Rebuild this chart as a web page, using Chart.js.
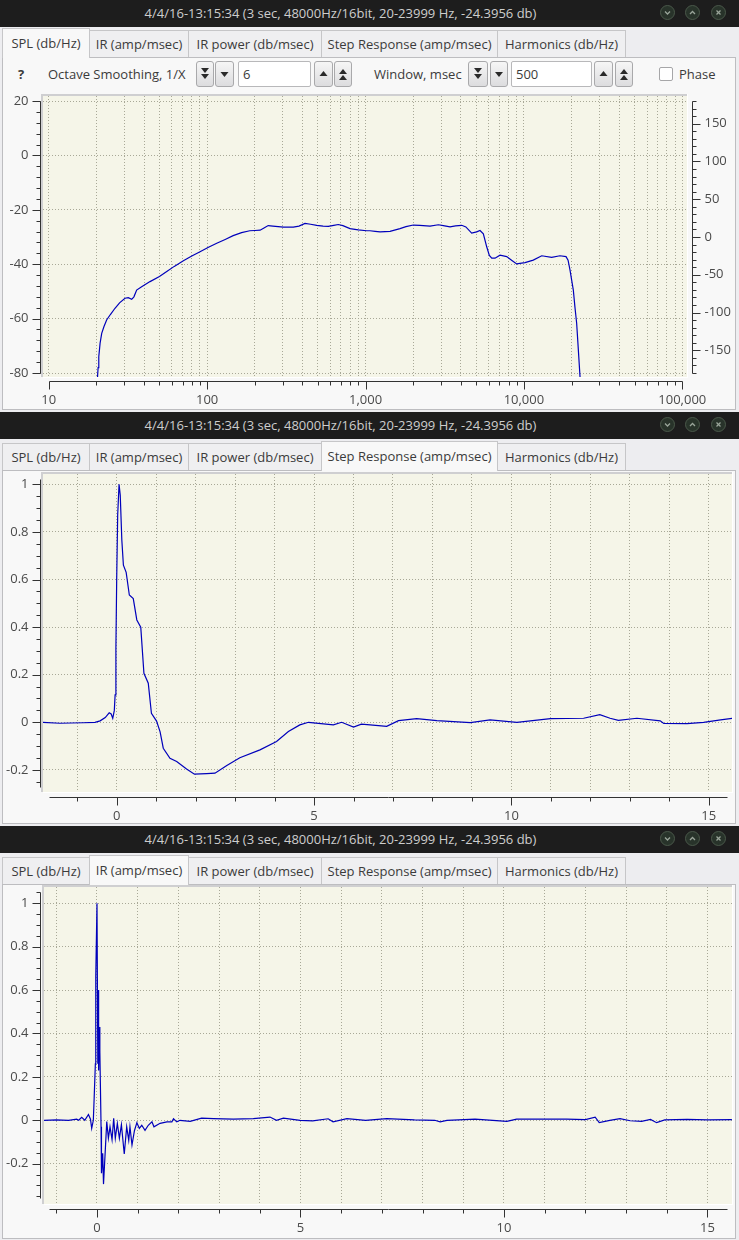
<!DOCTYPE html>
<html>
<head>
<meta charset="utf-8">
<title>Speaker measurement</title>
<script src="https://cdn.jsdelivr.net/npm/chart.js"></script>
<style>
    body { margin: 0; width: 739px; height: 1240px; background: #ededf0; position: relative; overflow: hidden;
           font-family: 'Open Sans', sans-serif; font-size: 13px; color: #3b3b3b; }
    #chrome { position: absolute; left: 0; top: 0; width: 739px; height: 1240px; }
    .title { position: absolute; left: 0; width: 739px; height: 27px; background: #1d1d1d; color: #cdcdcd; }
    .title span { position: absolute; left: 0; width: 681px; text-align: center; line-height: 26px; }
    .wbtn { position: absolute; top: 5px; width: 15px; height: 15px; }
    .tab { position: absolute; box-sizing: border-box; border: 1px solid #c6c6c8; border-bottom: none;
           background: #efeff1; text-align: center; white-space: nowrap; }
    .tab.on { background: #f8f8f8; z-index: 2; }
    .pane { position: absolute; left: 2px; width: 734px; box-sizing: border-box; border: 1px solid #bdbdc0; background: #f8f8f8; }
    .lbl { position: absolute; top: 65px; line-height: 18px; white-space: nowrap; }
    .sbtn { position: absolute; top: 61px; height: 26px; box-sizing: border-box; border: 1px solid #a9a9ab; border-radius: 3px;
            background: linear-gradient(#f6f6f6, #dcdcde); }
    .sbtn svg { position: absolute; left: 0; top: 0; }
    .inp { position: absolute; top: 61px; height: 26px; box-sizing: border-box; border: 1px solid #b8b8ba; border-radius: 2px;
           background: #fff; padding-left: 4px; line-height: 24px; }
    .chk { position: absolute; left: 659px; top: 67px; width: 14px; height: 14px; box-sizing: border-box;
           border: 1px solid #a6a6a8; border-radius: 2px; background: #fff; }
    canvas { position: absolute; left: 0; }
</style>
</head>
<body>
<div id="chrome"></div>
<canvas id="spl" width="739" height="320" style="top:90px"></canvas>
<canvas id="step" width="739" height="352" style="top:471px"></canvas>
<canvas id="ir" width="739" height="355" style="top:885px"></canvas>
<script>
// ---- data ----
const splFreq = [20.2, 20.5, 20.7, 21.1, 21.6, 22.3, 23.2, 24.5, 26.2, 28, 30.3, 31.8, 33.4, 34.5, 35.9, 38.6, 43.6, 50, 55.6, 62,
    70.8, 80, 90.2, 102, 115, 130, 146, 165, 186, 200, 216, 230, 243, 260, 303, 350, 380, 415, 450, 492, 540, 582, 630, 673, 720,
    798, 900, 1018, 1067, 1150, 1236, 1428, 1651, 1800, 2004, 2200, 2554, 2884, 3100, 3417, 3700, 4049, 4300, 4680, 5036, 5284,
    5545, 5823, 6050, 6266, 6572, 7063, 7788, 8400, 9006, 10160, 11460, 12950, 14970, 16900, 18450, 19000, 19540, 20000, 20510,
    21000, 21530, 22000, 22600, 22800];
const splDb = [-84, -78, -74, -69, -65.4, -63, -60.5, -58.5, -56.2, -54.2, -52.5, -52.3, -52.9, -52, -49.5, -48.3, -46.4, -44.5, -42.7, -40.8,
    -38.7, -37, -35.4, -33.8, -32.3, -30.9, -29.5, -28.4, -27.7, -27.6, -27.5, -26.6, -25.8, -26, -26.4, -26.4, -26, -25, -25.3, -25.7,
    -26, -26.1, -25.7, -25.4, -25.8, -26.9, -27.4, -27.7, -27.7, -27.9, -28.1, -27.9, -26.9, -26.2, -25.6, -25.7, -26, -25.5, -25.8, -26.3,
    -25.9, -25.7, -26.3, -28.6, -28.1, -27.6, -28.8, -33.6, -36.8, -37.8, -37.8, -36.7, -37.2, -38.6, -39.9, -39.4, -38.5, -36.9, -37.5,
    -36.9, -37.2, -38.5, -42.1, -45.7, -49.5, -55.8, -61.7, -70.3, -81.2, -84];

const stepTime = [-1.87, -1.44, -0.85, -0.55, -0.42, -0.29, -0.19, -0.14, -0.10, -0.06, -0.04, -0.02, 0.0, 0.025, 0.06, 0.09, 0.13, 0.17,
    0.24, 0.32, 0.42, 0.51, 0.61, 0.69, 0.80, 0.88, 1.01, 1.10, 1.18, 1.35, 1.52, 1.77, 1.97, 2.28, 2.49, 2.79, 3.12, 3.63, 4.05, 4.35,
    4.64, 4.86, 5.49, 5.70, 6.0, 6.2, 6.42, 6.84, 7.14, 7.6, 8.11, 8.96, 9.46, 10.14, 10.99, 11.83, 12.24, 12.5, 12.71, 13.18, 13.77,
    13.86, 14.45, 14.87, 15.3, 15.6];
const stepAmp = [0, -0.004, -0.002, 0, 0.006, 0.02, 0.04, 0.035, 0.017, 0.05, 0.115, 0.31, 0.60, 0.87, 1.0, 0.955, 0.766, 0.66,
    0.63, 0.535, 0.52, 0.43, 0.40, 0.206, 0.164, 0.038, 0.005, -0.04, -0.109, -0.151, -0.165, -0.196, -0.218, -0.216, -0.214, -0.182,
    -0.149, -0.116, -0.081, -0.039, -0.011, 0, -0.011, 0, -0.02, -0.008, -0.011, -0.017, 0.007, 0.015, 0.007, -0.001, 0.01, 0, 0.015,
    0.017, 0.032, 0.017, 0.008, 0.017, 0.006, -0.005, -0.006, 0, 0.01, 0.017];

const irTime = [-1.3, -1.0, -0.7, -0.5, -0.45, -0.376, -0.3, -0.21, -0.16, -0.13, -0.09, -0.07, -0.04, -0.03, 0.0, 0.02, 0.025, 0.04,
    0.06, 0.07, 0.10, 0.11, 0.14, 0.16, 0.20, 0.24, 0.28, 0.32, 0.37, 0.41, 0.45, 0.5, 0.55, 0.6, 0.67, 0.73, 0.78, 0.81, 0.86, 0.92,
    0.98, 1.04, 1.10, 1.18, 1.26, 1.35, 1.40, 1.55, 1.72, 1.84, 1.88, 1.96, 2.04, 2.29, 2.57, 2.86, 3.35, 3.84, 4.25, 4.41, 4.58,
    4.99, 5.3, 5.68, 5.8, 6.14, 6.6, 7.12, 7.8, 8.3, 8.43, 8.6, 9.29, 10.07, 10.31, 11.54, 12.0, 12.24, 12.34, 12.6, 12.85, 13.1,
    13.38, 13.6, 13.75, 13.95, 14.5, 15.0, 15.6];
const irAmp = [0, 0.002, 0, 0.005, 0, 0.014, 0, 0.027, 0.005, -0.037, 0, 0.10, 0.26, 0.66, 1.0, 0.26, 0.60, 0.23,
    0.43, 0.32, -0.03, -0.244, -0.152, -0.294, -0.152, -0.006, -0.083, -0.03, -0.089, 0.009, -0.083, -0.014, -0.083, -0.02, -0.155,
    -0.03, -0.092, -0.03, -0.114, -0.048, -0.011, -0.037, -0.023, -0.046, -0.023, -0.007, -0.03, -0.014, -0.007, -0.007, 0.007,
    -0.007, 0, -0.005, 0.01, 0.008, 0.005, 0.008, 0.015, 0, 0.01, 0, -0.003, 0.007, -0.007, 0.008, 0, 0.008, 0.002, 0, -0.007, 0,
    0.005, -0.005, 0.005, 0.005, 0.003, 0.014, -0.011, 0, 0.008, -0.002, -0.005, 0.004, -0.011, 0.002, 0.004, 0.002, 0.003];

// tick labels
const freqTicks = [10, 100, 1000, 10000, 100000];
const freqLabels = ['10', '100', '1,000', '10,000', '100,000'];
const dbTicks = [20, 0, -20, -40, -60, -80];
const phaseTicks = [150, 100, 50, 0, -50, -100, -150];
const ampTicks = [1, 0.8, 0.6, 0.4, 0.2, 0, -0.2];
const ampLabels = ['1', '0.8', '0.6', '0.4', '0.2', '0', '-0.2'];
const msTicks = [0, 5, 10, 15];

// ---- window chrome ----
const titleText = '4/4/16-13:15:34 (3 sec, 48000Hz/16bit, 20-23999 Hz, -24.3956 db)';
const tabNames = ['SPL (db/Hz)', 'IR (amp/msec)', 'IR power (db/msec)', 'Step Response (amp/msec)', 'Harmonics (db/Hz)'];
const tabEdges = [2, 89, 188, 321, 497, 625];
const windows = [
    { top: 0, active: 0, paneTop: 57, paneBottom: 409 },
    { top: 412, active: 3, paneTop: 470, paneBottom: 823 },
    { top: 826, active: 1, paneTop: 884, paneBottom: 1238 }
];

const chrome = document.getElementById('chrome');

function el(html) {
    const d = document.createElement('div');
    d.innerHTML = html;
    const node = d.firstElementChild;
    chrome.appendChild(node);
    return node;
}

function wbtnSvg(kind) {
    let g = '';
    if (kind === 'down') g = '<polyline points="5,6.5 7.5,9 10,6.5" />';
    if (kind === 'up') g = '<polyline points="5,9 7.5,6.5 10,9" />';
    if (kind === 'close') g = '<line x1="5.5" y1="5.5" x2="9.5" y2="9.5"/><line x1="9.5" y1="5.5" x2="5.5" y2="9.5"/>';
    return '<svg width="15" height="15"><circle cx="7.5" cy="7.5" r="7" fill="#28332a" stroke="#4a584a"/>' +
        '<g fill="none" stroke="#9aa59a" stroke-width="1.3">' + g + '</g></svg>';
}

windows.forEach(w => {
    const t = el(`<div class="title" style="top:${w.top}px"><span>${titleText}</span></div>`);
    [['down', 660], ['up', 685], ['close', 711]].forEach(([k, x]) => {
        const b = document.createElement('div');
        b.className = 'wbtn';
        b.style.left = x + 'px';
        b.innerHTML = wbtnSvg(k);
        t.appendChild(b);
    });
    el(`<div class="pane" style="top:${w.paneTop}px;height:${w.paneBottom - w.paneTop + 1}px"></div>`);
    tabNames.forEach((name, i) => {
        const on = i === w.active;
        const top = on ? w.paneTop - 29 : w.paneTop - 27;
        const h = on ? 30 : 27;
        el(`<div class="tab${on ? ' on' : ''}" style="left:${tabEdges[i]}px;width:${tabEdges[i + 1] - tabEdges[i] + 1}px;` +
            `top:${top}px;height:${h}px;line-height:${on ? 28 : 26}px">${name}</div>`);
    });
});

// spin buttons in the SPL controls row
function spinSvg(kind, w) {
    const c = w / 2;
    const down = y => `<polygon points="${c - 4},${y} ${c + 4},${y} ${c},${y + 5}"/>`;
    const up = y => `<polygon points="${c - 4},${y + 5} ${c + 4},${y + 5} ${c},${y}"/>`;
    let g = '';
    if (kind === 'dd') g = down(6) + down(12);
    if (kind === 'd') g = down(10);
    if (kind === 'u') g = up(9);
    if (kind === 'uu') g = up(7) + up(13);
    return `<svg width="${w}" height="24" fill="#2a2a2a">${g}</svg>`;
}

const controls = [
    '<div class="lbl" style="left:18px;font-weight:bold">?</div>',
    '<div class="lbl" style="left:48px">Octave Smoothing, 1/X</div>',
    '<div class="inp" style="left:238px;width:73px">6</div>',
    '<div class="lbl" style="left:374px">Window, msec</div>',
    '<div class="inp" style="left:511px;width:81px">500</div>',
    '<div class="chk"></div>',
    '<div class="lbl" style="left:679px">Phase</div>'
];
controls.forEach(c => el(c));
[['dd', 196, 18], ['d', 215, 19], ['u', 314, 19], ['uu', 334, 18],
 ['dd', 468, 20], ['d', 490, 18], ['u', 594, 19], ['uu', 615, 18]].forEach(([k, x, w]) => {
    el(`<div class="sbtn" style="left:${x}px;width:${w}px">${spinSvg(k, w - 2)}</div>`);
});

// ---- charts ----
function range(a, b, step, div) {
    const out = [];
    for (let i = a; i <= b; i += step) out.push(i / div);
    return out;
}

const freqGrid = [];
for (let e = 1; e <= 4; e++) for (let k = 1; k <= 9; k++) freqGrid.push(k * Math.pow(10, e));
freqGrid.push(100000);
const freqMinor = freqGrid.filter(v => !freqTicks.includes(v));

function makeAxisPlugin(axes) {
    return {
        id: 'frameAxes',
        beforeDraw(chart) {
            const { ctx, chartArea: a } = chart;
            ctx.save();
            ctx.fillStyle = '#f5f5e8';
            ctx.fillRect(a.left, a.top, a.right - a.left, a.bottom - a.top);
            ctx.fillStyle = '#cfcfd1';
            ctx.fillRect(a.left - 2, a.top - 2, a.right - a.left + 2, 2);
            ctx.fillRect(a.left - 2, a.top - 2, 2, a.bottom - a.top + 2);
            ctx.fillStyle = '#ffffff';
            ctx.fillRect(a.left, a.bottom, a.right - a.left + 1, 1);
            ctx.fillRect(a.right, a.top - 2, 1, a.bottom - a.top + 3);
            ctx.restore();
        },
        afterDraw(chart) {
            const { ctx, chartArea: a } = chart;
            ctx.save();
            ctx.strokeStyle = '#333';
            ctx.lineWidth = 1;
            ctx.fillStyle = '#4a4a4a';
            ctx.font = '13px "Open Sans"';
            axes.forEach(ax => {
                const s = chart.scales[ax.scale];
                const px = v => Math.round(s.getPixelForValue(v)) + 0.5;
                ctx.beginPath();
                if (ax.side === 'bottom') {
                    const y = Math.round(a.bottom + ax.gap) + 0.5;
                    ctx.moveTo(px(ax.from), y); ctx.lineTo(px(ax.to), y);
                    ax.minor.forEach(v => { ctx.moveTo(px(v), y); ctx.lineTo(px(v), y + 4); });
                    ax.major.forEach(v => { ctx.moveTo(px(v), y); ctx.lineTo(px(v), y + 8); });
                    ctx.stroke();
                    ctx.textAlign = 'center';
                    ctx.textBaseline = 'middle';
                    ax.major.forEach((v, i) => ctx.fillText(ax.labels[i], s.getPixelForValue(v), y + 19));
                } else {
                    const dir = ax.side === 'left' ? -1 : 1;
                    const x = Math.round(ax.side === 'left' ? a.left - ax.gap : a.right + ax.gap) + 0.5;
                    ctx.moveTo(x, px(ax.from)); ctx.lineTo(x, px(ax.to));
                    ax.minor.forEach(v => { ctx.moveTo(x, px(v)); ctx.lineTo(x + dir * 4, px(v)); });
                    ax.major.forEach(v => { ctx.moveTo(x, px(v)); ctx.lineTo(x + dir * 8, px(v)); });
                    ctx.stroke();
                    ctx.textAlign = ax.side === 'left' ? 'right' : 'left';
                    ctx.textBaseline = 'middle';
                    ax.major.forEach((v, i) => ctx.fillText(ax.labels[i], x + dir * 12, s.getPixelForValue(v)));
                }
            });
            ctx.restore();
        }
    };
}

function gridScale(type, min, max, gridValues, position) {
    return {
        type: type,
        position: position,
        min: min,
        max: max,
        ticks: { display: false },
        afterBuildTicks: s => { s.ticks = gridValues.map(v => ({ value: v })); },
        grid: { display: gridValues.length > 0, drawTicks: false, color: '#a8a897', lineWidth: 1 },
        border: { display: false, dash: [1, 2] }
    };
}

function makeChart(id, xs, ys, scales, padding, axes) {
    return new Chart(document.getElementById(id), {
        type: 'line',
        data: {
            datasets: [{
                data: xs.map((x, i) => ({ x: x, y: ys[i] })),
                borderColor: '#0000bb',
                borderWidth: 1.2,
                pointRadius: 0,
                tension: 0,
                fill: false
            }]
        },
        options: {
            responsive: false,
            animation: false,
            layout: { padding: padding },
            plugins: { legend: { display: false }, tooltip: { enabled: false } },
            scales: scales
        },
        plugins: [makeAxisPlugin(axes)]
    });
}

// SPL: log frequency, dB on the left, phase on the right
makeChart('spl', splFreq, splDb, {
    x: gridScale('logarithmic', 9.2, 107080, freqGrid, 'bottom'),
    y: gridScale('linear', -81.47, 21.84, dbTicks, 'left'),
    y2: gridScale('linear', -185.3, 186.6, [], 'right')
}, { left: 43, top: 6, right: 52, bottom: 33 }, [
    { scale: 'x', side: 'bottom', gap: 4, from: 10, to: 100000, major: freqTicks, minor: freqMinor, labels: freqLabels },
    { scale: 'y', side: 'left', gap: 3, from: -80, to: 20, major: dbTicks, minor: range(-80, 20, 4, 1), labels: dbTicks.map(String) },
    { scale: 'y2', side: 'right', gap: 5, from: -180, to: 180, major: phaseTicks, minor: range(-180, 180, 10, 1), labels: phaseTicks.map(String) }
]);

// Step response
makeChart('step', stepTime, stepAmp, {
    x: gridScale('linear', -1.867, 15.589, range(-1, 15, 1, 1), 'bottom'),
    y: gridScale('linear', -0.2929, 1.0433, ampTicks, 'left')
}, { left: 43, top: 3, right: 7, bottom: 31 }, [
    { scale: 'x', side: 'bottom', gap: 5, from: -1.715, to: 15.455, major: msTicks, minor: range(-1, 15, 1, 1), labels: msTicks.map(String) },
    { scale: 'y', side: 'left', gap: 3, from: -0.2706, to: 1.022, major: ampTicks, minor: range(-5, 20, 1, 20), labels: ampLabels }
]);

// Impulse response
makeChart('ir', irTime, irAmp, {
    x: gridScale('linear', -1.302, 15.602, range(-1, 15, 1, 1), 'bottom'),
    y: gridScale('linear', -0.3857, 1.075, ampTicks, 'left')
}, { left: 44, top: 2, right: 7, bottom: 36 }, [
    { scale: 'x', side: 'bottom', gap: 5, from: -1.172, to: 15.47, major: msTicks, minor: range(-1, 15, 1, 1), labels: msTicks.map(String) },
    { scale: 'y', side: 'left', gap: 4, from: -0.357, to: 1.05, major: ampTicks, minor: range(-7, 21, 1, 20), labels: ampLabels }
]);
</script>
</body>
</html>
